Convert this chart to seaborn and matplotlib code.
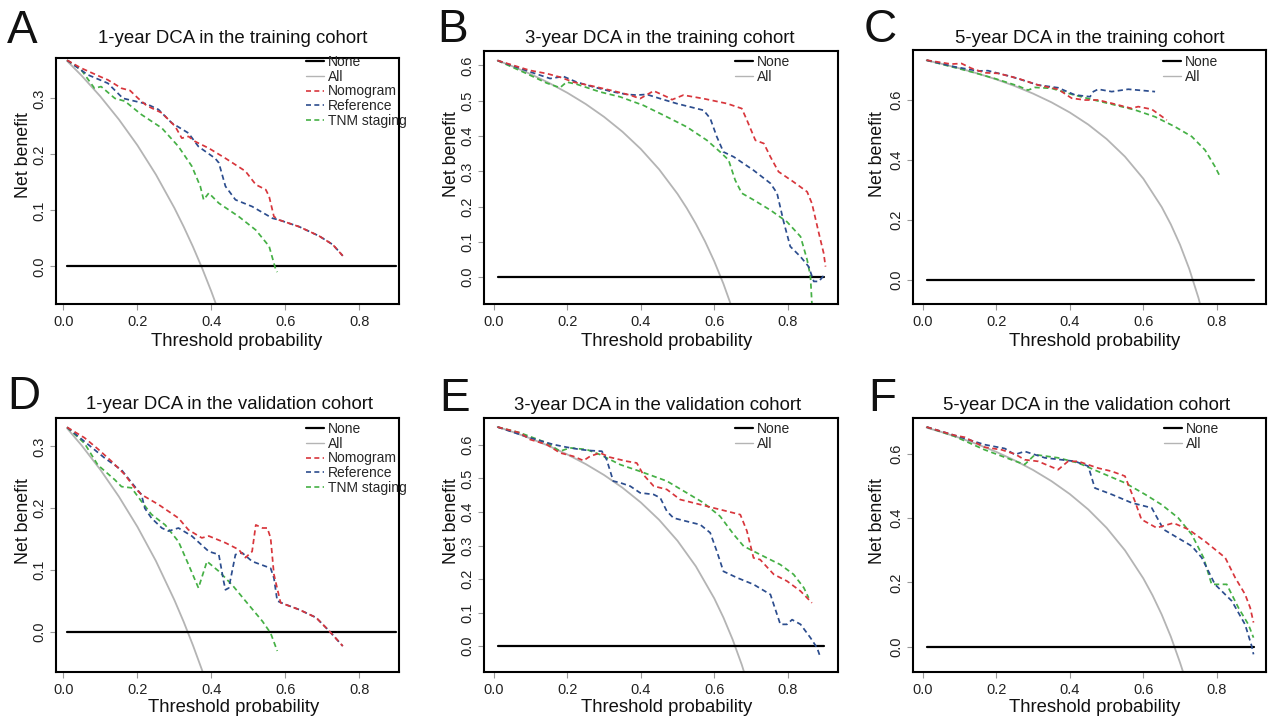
import numpy as np
import pandas as pd
import matplotlib
matplotlib.use("Agg")
import matplotlib.pyplot as plt
from matplotlib.lines import Line2D
from matplotlib.ticker import FormatStrFormatter
import seaborn as sns

sns.set_style("white")
plt.rcParams['font.family'] = ['Liberation Sans', 'DejaVu Sans']

# ---------------- DATA ----------------
NONE_X = [0.01, 0.90]
NONE_Y = [0.0, 0.0]

# Panel A: 1-year training
A_ALL_X = [0.01, 0.05, 0.10, 0.15, 0.20, 0.25, 0.30, 0.325, 0.35, 0.375, 0.40, 0.42]
A_ALL_Y = [0.3667, 0.3400, 0.3033, 0.2623, 0.2163, 0.1640, 0.1043, 0.0711, 0.0354, -0.0032, -0.0450, -0.0810]
A_NOM_X = [0.01, 0.048, 0.102, 0.12, 0.157, 0.18, 0.202, 0.225, 0.266, 0.302, 0.32, 0.338, 0.356, 0.393, 0.438,
           0.492, 0.52, 0.547, 0.556, 0.569, 0.583, 0.637, 0.692, 0.728, 0.755]
A_NOM_Y = [0.368, 0.354, 0.338, 0.333, 0.318, 0.314, 0.300, 0.287, 0.274, 0.250, 0.229, 0.232, 0.223, 0.211, 0.193,
           0.170, 0.146, 0.137, 0.125, 0.089, 0.083, 0.071, 0.054, 0.039, 0.019]
A_REF_X = [0.01, 0.066, 0.12, 0.161, 0.193, 0.225, 0.257, 0.293, 0.338, 0.365, 0.41, 0.42, 0.438, 0.465, 0.51,
           0.565, 0.583, 0.637, 0.692, 0.728, 0.755]
A_REF_Y = [0.368, 0.342, 0.327, 0.300, 0.295, 0.290, 0.280, 0.256, 0.238, 0.214, 0.193, 0.185, 0.143, 0.119, 0.107,
           0.086, 0.083, 0.071, 0.054, 0.039, 0.019]
A_TNM_X = [0.01, 0.048, 0.084, 0.102, 0.139, 0.166, 0.211, 0.266, 0.311, 0.347, 0.37, 0.379, 0.393, 0.42, 0.474,
           0.52, 0.556, 0.574, 0.578]
A_TNM_Y = [0.368, 0.351, 0.318, 0.321, 0.300, 0.295, 0.271, 0.247, 0.214, 0.179, 0.143, 0.119, 0.131, 0.113, 0.089,
           0.065, 0.036, -0.006, -0.010]

# Panel B: 3-year training
B_ALL_X = [0.01, 0.05, 0.10, 0.15, 0.20, 0.25, 0.30, 0.35, 0.40, 0.45, 0.50, 0.525, 0.55, 0.575, 0.60, 0.625, 0.65, 0.67]
B_ALL_Y = [0.6141, 0.5979, 0.5756, 0.5506, 0.5225, 0.4907, 0.4543, 0.4123, 0.3633, 0.3054, 0.2360, 0.1958, 0.1511,
           0.1012, 0.0450, -0.0187, -0.0915, -0.1576]
B_NOM_X = [0.01, 0.098, 0.144, 0.18, 0.216, 0.271, 0.325, 0.371, 0.398, 0.435, 0.471, 0.485, 0.516, 0.571, 0.635,
           0.675, 0.689, 0.712, 0.735, 0.753, 0.775, 0.816, 0.853, 0.866, 0.885, 0.898, 0.903]
B_NOM_Y = [0.614, 0.586, 0.577, 0.567, 0.553, 0.541, 0.528, 0.516, 0.506, 0.528, 0.511, 0.503, 0.516, 0.506, 0.492,
           0.478, 0.445, 0.388, 0.379, 0.341, 0.299, 0.270, 0.242, 0.209, 0.124, 0.068, 0.030]
B_REF_X = [0.01, 0.098, 0.153, 0.189, 0.225, 0.271, 0.325, 0.362, 0.389, 0.416, 0.453, 0.498, 0.571, 0.589, 0.607,
           0.625, 0.653, 0.68, 0.707, 0.753, 0.771, 0.789, 0.807, 0.835, 0.857, 0.871, 0.885, 0.90]
B_REF_Y = [0.614, 0.582, 0.563, 0.569, 0.553, 0.539, 0.525, 0.518, 0.516, 0.518, 0.506, 0.492, 0.473, 0.450, 0.398,
           0.355, 0.341, 0.322, 0.303, 0.266, 0.238, 0.157, 0.087, 0.058, 0.030, -0.012, -0.012, 0.007]
B_TNM_X = [0.01, 0.089, 0.144, 0.18, 0.198, 0.225, 0.289, 0.344, 0.407, 0.462, 0.525, 0.58, 0.616, 0.639, 0.657,
           0.675, 0.707, 0.753, 0.798, 0.835, 0.853, 0.862, 0.866, 0.872]
B_TNM_Y = [0.614, 0.577, 0.550, 0.537, 0.553, 0.547, 0.525, 0.511, 0.487, 0.459, 0.426, 0.388, 0.355, 0.332, 0.275,
           0.238, 0.219, 0.190, 0.157, 0.115, 0.049, 0.002, -0.076, -0.15]

# Panel C: 5-year training
C_ALL_X = [0.01, 0.05, 0.10, 0.15, 0.20, 0.25, 0.30, 0.35, 0.40, 0.45, 0.50, 0.55, 0.60, 0.65, 0.675, 0.70, 0.725,
           0.75, 0.77]
C_ALL_Y = [0.7323, 0.7211, 0.7056, 0.6882, 0.6688, 0.6467, 0.6214, 0.5923, 0.5583, 0.5182, 0.4700, 0.4111, 0.3375,
           0.2429, 0.1846, 0.1167, 0.0364, -0.0600, -0.1522]
C_NOM_X = [0.01, 0.077, 0.105, 0.132, 0.168, 0.205, 0.259, 0.314, 0.368, 0.405, 0.441, 0.477, 0.514, 0.568, 0.586,
           0.623, 0.645, 0.664]
C_NOM_Y = [0.733, 0.720, 0.722, 0.706, 0.691, 0.689, 0.672, 0.650, 0.636, 0.606, 0.600, 0.600, 0.589, 0.572, 0.578,
           0.569, 0.550, 0.533]
C_REF_X = [0.01, 0.086, 0.15, 0.177, 0.241, 0.314, 0.368, 0.414, 0.455, 0.464, 0.477, 0.514, 0.559, 0.605, 0.632]
C_REF_Y = [0.733, 0.711, 0.697, 0.698, 0.678, 0.650, 0.641, 0.617, 0.611, 0.628, 0.636, 0.628, 0.636, 0.631, 0.628]
C_TNM_X = [0.01, 0.059, 0.132, 0.195, 0.259, 0.286, 0.305, 0.35, 0.405, 0.459, 0.514, 0.577, 0.632, 0.686, 0.732,
           0.768, 0.795, 0.809]
C_TNM_Y = [0.733, 0.717, 0.694, 0.672, 0.647, 0.633, 0.642, 0.639, 0.619, 0.602, 0.586, 0.567, 0.544, 0.511, 0.478,
           0.433, 0.378, 0.344]

# Panel D: 1-year validation
D_ALL_X = [0.01, 0.05, 0.10, 0.15, 0.20, 0.25, 0.30, 0.325, 0.35, 0.375, 0.39]
D_ALL_Y = [0.3293, 0.3011, 0.2622, 0.2188, 0.1700, 0.1147, 0.0514, 0.0163, -0.0216, -0.0624, -0.0885]
D_NOM_X = [0.01, 0.057, 0.093, 0.13, 0.165, 0.193, 0.211, 0.257, 0.311, 0.338, 0.374, 0.393, 0.438, 0.474, 0.492,
           0.51, 0.52, 0.538, 0.551, 0.56, 0.569, 0.587, 0.637, 0.683, 0.719, 0.755]
D_NOM_Y = [0.331, 0.314, 0.296, 0.276, 0.255, 0.233, 0.222, 0.206, 0.184, 0.165, 0.152, 0.155, 0.144, 0.133, 0.120,
           0.130, 0.173, 0.168, 0.168, 0.152, 0.093, 0.047, 0.036, 0.023, 0.001, -0.023]
D_REF_X = [0.01, 0.057, 0.112, 0.157, 0.193, 0.211, 0.22, 0.238, 0.266, 0.284, 0.311, 0.347, 0.393, 0.42, 0.433,
           0.438, 0.447, 0.465, 0.483, 0.51, 0.56, 0.569, 0.578, 0.597, 0.637, 0.683, 0.719, 0.755]
D_REF_Y = [0.331, 0.308, 0.281, 0.262, 0.235, 0.222, 0.200, 0.184, 0.168, 0.163, 0.168, 0.155, 0.130, 0.125, 0.082,
           0.068, 0.071, 0.125, 0.128, 0.114, 0.103, 0.087, 0.050, 0.045, 0.036, 0.023, 0.001, -0.023]
D_TNM_X = [0.01, 0.057, 0.093, 0.139, 0.157, 0.184, 0.211, 0.238, 0.275, 0.311, 0.338, 0.365, 0.388, 0.42, 0.456,
           0.492, 0.538, 0.56, 0.578]
D_TNM_Y = [0.331, 0.305, 0.270, 0.246, 0.235, 0.233, 0.211, 0.190, 0.173, 0.146, 0.109, 0.071, 0.114, 0.098, 0.076,
           0.050, 0.017, -0.002, -0.031]

# Panel E: 3-year validation
E_ALL_X = [0.01, 0.05, 0.10, 0.15, 0.20, 0.25, 0.30, 0.35, 0.40, 0.45, 0.50, 0.55, 0.60, 0.625, 0.65, 0.675, 0.70]
E_ALL_Y = [0.6535, 0.6390, 0.6189, 0.5965, 0.5713, 0.5427, 0.5100, 0.4723, 0.4283, 0.3764, 0.3140, 0.2378, 0.1425,
           0.0853, 0.0200, -0.0554, -0.1433]
E_NOM_X = [0.01, 0.071, 0.098, 0.144, 0.18, 0.216, 0.244, 0.262, 0.289, 0.316, 0.362, 0.389, 0.407, 0.435, 0.471,
           0.507, 0.562, 0.598, 0.635, 0.671, 0.689, 0.707, 0.725, 0.762, 0.798, 0.835, 0.866]
E_NOM_Y = [0.653, 0.636, 0.616, 0.601, 0.576, 0.566, 0.553, 0.566, 0.576, 0.563, 0.551, 0.546, 0.511, 0.477, 0.467,
           0.437, 0.422, 0.412, 0.402, 0.392, 0.343, 0.263, 0.258, 0.214, 0.194, 0.164, 0.129]
E_REF_X = [0.01, 0.098, 0.162, 0.198, 0.235, 0.262, 0.294, 0.307, 0.325, 0.344, 0.371, 0.398, 0.435, 0.453, 0.471,
           0.489, 0.525, 0.562, 0.589, 0.607, 0.625, 0.662, 0.707, 0.753, 0.762, 0.78, 0.798, 0.812, 0.835, 0.862,
           0.88, 0.889]
E_REF_Y = [0.653, 0.621, 0.601, 0.593, 0.586, 0.583, 0.581, 0.556, 0.492, 0.487, 0.477, 0.457, 0.452, 0.442, 0.402,
           0.382, 0.372, 0.362, 0.338, 0.283, 0.223, 0.204, 0.184, 0.154, 0.124, 0.065, 0.065, 0.079, 0.065, 0.025,
           -0.005, -0.033]
E_TNM_X = [0.01, 0.071, 0.144, 0.18, 0.207, 0.253, 0.289, 0.344, 0.398, 0.471, 0.525, 0.571, 0.616, 0.653, 0.68,
           0.725, 0.78, 0.816, 0.844, 0.857]
E_TNM_Y = [0.653, 0.636, 0.606, 0.581, 0.591, 0.586, 0.571, 0.541, 0.521, 0.492, 0.457, 0.427, 0.387, 0.333, 0.298,
           0.273, 0.243, 0.214, 0.174, 0.144]

# Panel F: 5-year validation
F_ALL_X = [0.01, 0.05, 0.10, 0.15, 0.20, 0.25, 0.30, 0.35, 0.40, 0.45, 0.50, 0.55, 0.60, 0.625, 0.65, 0.675, 0.70, 0.72]
F_ALL_Y = [0.6818, 0.6684, 0.6500, 0.6294, 0.6063, 0.5800, 0.5500, 0.5154, 0.4750, 0.4273, 0.3700, 0.2999, 0.2125,
           0.1600, 0.1000, 0.0308, -0.0500, -0.1200]
F_NOM_X = [0.01, 0.086, 0.114, 0.168, 0.214, 0.25, 0.277, 0.314, 0.368, 0.395, 0.423, 0.477, 0.514, 0.55, 0.577,
           0.595, 0.636, 0.682, 0.723, 0.768, 0.823, 0.85, 0.877, 0.891, 0.90]
F_NOM_Y = [0.684, 0.658, 0.652, 0.621, 0.613, 0.600, 0.582, 0.577, 0.551, 0.577, 0.577, 0.556, 0.546, 0.531, 0.453,
           0.396, 0.370, 0.385, 0.365, 0.328, 0.277, 0.215, 0.163, 0.121, 0.075]
F_REF_X = [0.01, 0.086, 0.168, 0.223, 0.25, 0.277, 0.332, 0.377, 0.414, 0.45, 0.468, 0.514, 0.568, 0.623, 0.655,
           0.686, 0.732, 0.759, 0.795, 0.841, 0.877, 0.895, 0.90]
F_REF_Y = [0.684, 0.658, 0.629, 0.617, 0.598, 0.608, 0.588, 0.582, 0.577, 0.562, 0.494, 0.474, 0.448, 0.432, 0.365,
           0.344, 0.313, 0.277, 0.194, 0.142, 0.069, 0.002, -0.024]
F_TNM_X = [0.01, 0.086, 0.168, 0.241, 0.277, 0.305, 0.368, 0.423, 0.486, 0.55, 0.605, 0.65, 0.695, 0.732, 0.764,
           0.786, 0.827, 0.859, 0.886, 0.90]
F_TNM_Y = [0.684, 0.655, 0.613, 0.582, 0.567, 0.598, 0.588, 0.572, 0.541, 0.510, 0.474, 0.442, 0.401, 0.349, 0.277,
           0.194, 0.194, 0.121, 0.069, 0.028]

LETTERS = ["A", "B", "C", "D", "E", "F"]
TITLES = ["1-year DCA in the training cohort", "3-year DCA in the training cohort",
          "5-year DCA in the training cohort", "1-year DCA in the validation cohort",
          "3-year DCA in the validation cohort", "5-year DCA in the validation cohort"]
SERIES_NAMES = ["None", "All", "Nomogram", "Reference", "TNM staging"]
X_TICKS = [0.0, 0.2, 0.4, 0.6, 0.8]
Y_TICKS = [[0.0, 0.1, 0.2, 0.3], [0.0, 0.1, 0.2, 0.3, 0.4, 0.5, 0.6], [0.0, 0.2, 0.4, 0.6],
           [0.0, 0.1, 0.2, 0.3], [0.0, 0.1, 0.2, 0.3, 0.4, 0.5, 0.6], [0.0, 0.2, 0.4, 0.6]]

PANELS = [
    (A_ALL_X, A_ALL_Y, A_NOM_X, A_NOM_Y, A_REF_X, A_REF_Y, A_TNM_X, A_TNM_Y),
    (B_ALL_X, B_ALL_Y, B_NOM_X, B_NOM_Y, B_REF_X, B_REF_Y, B_TNM_X, B_TNM_Y),
    (C_ALL_X, C_ALL_Y, C_NOM_X, C_NOM_Y, C_REF_X, C_REF_Y, C_TNM_X, C_TNM_Y),
    (D_ALL_X, D_ALL_Y, D_NOM_X, D_NOM_Y, D_REF_X, D_REF_Y, D_TNM_X, D_TNM_Y),
    (E_ALL_X, E_ALL_Y, E_NOM_X, E_NOM_Y, E_REF_X, E_REF_Y, E_TNM_X, E_TNM_Y),
    (F_ALL_X, F_ALL_Y, F_NOM_X, F_NOM_Y, F_REF_X, F_REF_Y, F_TNM_X, F_TNM_Y),
]

# ---------------- LAYOUT / STYLE ----------------
W, H = 1268, 722
# axes boxes in pixels: left, top, right, bottom
BOXES = [(56, 58, 399, 304), (484, 51, 838, 304), (913, 50, 1266, 304),
         (56, 418, 399, 672), (484, 418, 838, 672), (913, 418, 1266, 672)]
XLIMS = [(-0.02, 0.907), (-0.027, 0.937), (-0.027, 0.934),
         (-0.02, 0.907), (-0.027, 0.937), (-0.027, 0.934)]
YLIMS = [(-0.067, 0.372), (-0.076, 0.641), (-0.081, 0.767),
         (-0.065, 0.346), (-0.077, 0.680), (-0.079, 0.712)]
TITLE_POS = [(233, 43), (660, 43), (1090, 43), (230, 409), (658, 410), (1087, 410)]
LETTER_POS = [(7, 43), (437, 42), (864, 42), (7, 409), (439, 411), (868, 411)]
LEGEND_POS = [(306, 55), (735, 55), (1163, 55), (306, 422), (735, 422), (1164, 422)]
YLAB_Y = [155, 154, 154, 521, 521, 521]
YLAB_X = [23, 452, 878, 23, 452, 878]
XLAB_POS = [(237, 346), (667, 346), (1095, 346), (234, 712), (667, 712), (1095, 712)]

COL_NOM = "#D8363C"
COL_REF = "#2C4D8E"
COL_TNM = "#45B045"
COL_ALL = "#B4B4B4"
DASH = (0, (3, 2))

fig = plt.figure(figsize=(W / 100, H / 100), dpi=100)
fig.patch.set_facecolor("white")

for i, (box, data) in enumerate(zip(BOXES, PANELS)):
    l, t, r, b = box
    ax = fig.add_axes([l / W, 1 - b / H, (r - l) / W, (b - t) / H])
    all_x, all_y, nom_x, nom_y, ref_x, ref_y, tnm_x, tnm_y = data

    sns.lineplot(x=all_x, y=all_y, ax=ax, color=COL_ALL, linewidth=1.3, sort=False, estimator=None)
    sns.lineplot(x=NONE_X, y=NONE_Y, ax=ax, color="black", linewidth=1.6, sort=False, estimator=None)
    sns.lineplot(x=tnm_x, y=tnm_y, ax=ax, color=COL_TNM, linewidth=1.25, linestyle=DASH, sort=False, estimator=None)
    sns.lineplot(x=ref_x, y=ref_y, ax=ax, color=COL_REF, linewidth=1.25, linestyle=DASH, sort=False, estimator=None)
    sns.lineplot(x=nom_x, y=nom_y, ax=ax, color=COL_NOM, linewidth=1.25, linestyle=DASH, sort=False, estimator=None)

    ax.set_xlim(*XLIMS[i])
    ax.set_ylim(*YLIMS[i])
    ax.set_xticks(X_TICKS)
    ax.set_yticks(Y_TICKS[i])
    ax.xaxis.set_major_formatter(FormatStrFormatter('%.1f'))
    ax.yaxis.set_major_formatter(FormatStrFormatter('%.1f'))
    ax.tick_params(direction='out', length=4, width=0.8, color='#999999', labelsize=10.5,
                   labelcolor='#222222', bottom=True, left=True)
    ax.tick_params(axis='x', pad=4)
    ax.tick_params(axis='y', pad=3, labelrotation=90)
    for tl in ax.get_yticklabels():
        tl.set_va('center')
    for sp in ax.spines.values():
        sp.set_visible(True)
        sp.set_color('black')
        sp.set_linewidth(1.5)
    ax.grid(False)
    ax.set_xlabel("")
    ax.set_ylabel("")

    # axis labels
    fig.text(XLAB_POS[i][0] / W, 1 - XLAB_POS[i][1] / H, "Threshold probability", ha='center', va='baseline',
             fontsize=13.3, color='#111111')
    fig.text(YLAB_X[i] / W, 1 - YLAB_Y[i] / H, "Net benefit", ha='center', va='center', rotation=90,
             fontsize=12.8, color='#111111')
    # title and panel letter
    fig.text(TITLE_POS[i][0] / W, 1 - TITLE_POS[i][1] / H, TITLES[i], ha='center', va='baseline',
             fontsize=13.4, color='#111111')
    fig.text(LETTER_POS[i][0] / W, 1 - LETTER_POS[i][1] / H, LETTERS[i], ha='left', va='baseline',
             fontsize=33, color='#111111')

    handles = [Line2D([], [], color='black', lw=1.6), Line2D([], [], color=COL_ALL, lw=1.0)]
    names = SERIES_NAMES[:2]
    if i in (0, 3):
        handles += [Line2D([], [], color=COL_NOM, lw=1.2, linestyle=DASH),
                    Line2D([], [], color=COL_REF, lw=1.2, linestyle=DASH),
                    Line2D([], [], color=COL_TNM, lw=1.2, linestyle=DASH)]
        names = SERIES_NAMES
    lx, ly = LEGEND_POS[i]
    ax.legend(handles, names, loc='upper left', bbox_to_anchor=(lx / W, 1 - ly / H),
              bbox_transform=fig.transFigure, frameon=False, fontsize=10, borderpad=0, borderaxespad=0,
              labelspacing=0.05, handlelength=1.3, handletextpad=0.25)

fig.savefig("out.png", dpi=100, facecolor="white")
